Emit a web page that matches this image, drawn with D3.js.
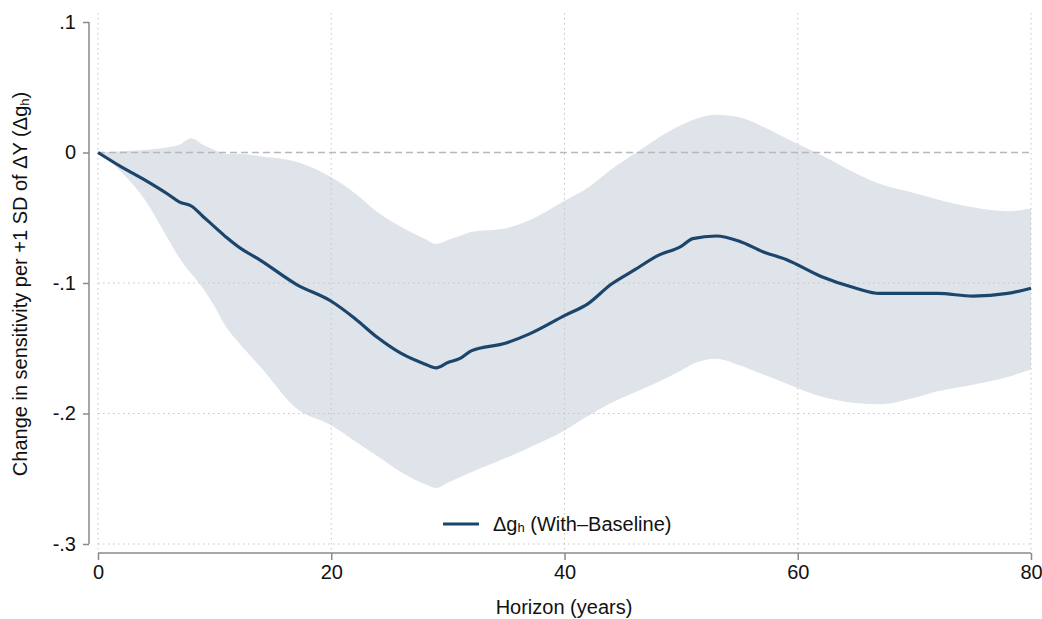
<!DOCTYPE html>
<html>
<head>
<meta charset="utf-8">
<script src="https://cdn.jsdelivr.net/npm/d3@7"></script>
<style>
  html, body { margin: 0; padding: 0; background: #fff; }
  svg { display: block; font-family: "Liberation Sans", Arial, Helvetica, sans-serif; }
</style>
</head>
<body>
<svg id="chart" width="1042" height="619"></svg>
<script>
const horizons = [0,2,4,6,7,8,9,10,11,12,14,17,20,22,24,26,28,29,30,31,32,35,37,40,42,44,46,48,50,51,53,55,57,59,62,65,67,70,72,75,78,80];
const estimate = [0,-0.011,-0.021,-0.032,-0.038,-0.041,-0.049,-0.057,-0.065,-0.072,-0.083,-0.101,-0.114,-0.127,-0.142,-0.154,-0.162,-0.165,-0.161,-0.158,-0.152,-0.146,-0.139,-0.125,-0.116,-0.101,-0.090,-0.079,-0.072,-0.066,-0.064,-0.068,-0.076,-0.082,-0.095,-0.104,-0.108,-0.108,-0.108,-0.110,-0.108,-0.104];
const upper = [0,0.001,0.002,0.004,0.006,0.011,0.006,0.002,-0.001,-0.001,-0.003,-0.007,-0.019,-0.031,-0.046,-0.057,-0.066,-0.070,-0.067,-0.064,-0.061,-0.058,-0.052,-0.037,-0.027,-0.013,-0.001,0.011,0.021,0.025,0.029,0.027,0.020,0.011,-0.002,-0.016,-0.024,-0.031,-0.036,-0.042,-0.045,-0.043];
const lower = [0,-0.015,-0.036,-0.066,-0.081,-0.093,-0.104,-0.118,-0.134,-0.145,-0.165,-0.196,-0.209,-0.221,-0.233,-0.245,-0.254,-0.257,-0.253,-0.249,-0.245,-0.234,-0.226,-0.213,-0.202,-0.192,-0.184,-0.176,-0.167,-0.162,-0.158,-0.163,-0.170,-0.177,-0.187,-0.192,-0.193,-0.188,-0.183,-0.178,-0.172,-0.166];
const xTicks = [0, 20, 40, 60, 80];
const xTickLabels = ["0", "20", "40", "60", "80"];
const yTicks = [0.1, 0, -0.1, -0.2, -0.3];
const yTickLabels = [".1", "0", "-.1", "-.2", "-.3"];

const svg = d3.select("#chart");
const x = d3.scaleLinear().domain([0, 80]).range([98, 1031]);
const y = d3.scaleLinear().domain([-0.3, 0.1]).range([544, 22]);

const rows = horizons.map((h, i) => ({h, e: estimate[i], lo: lower[i], hi: upper[i]}));

// band
svg.append("path")
  .datum(rows)
  .attr("fill", "#dfe3ea")
  .attr("d", d3.area().x(d => x(d.h)).y0(d => y(d.lo)).y1(d => y(d.hi)).curve(d3.curveMonotoneX));

// gridlines
const grid = svg.append("g");
xTicks.forEach(t => {
  grid.append("line").attr("x1", x(t)).attr("x2", x(t)).attr("y1", 13).attr("y2", 553)
    .attr("stroke", "#c4c4c4").attr("stroke-width", 1).attr("stroke-dasharray", "1.5,3.5");
});
yTicks.filter(t => t < 0).forEach(t => {
  grid.append("line").attr("x1", 98).attr("x2", 1031).attr("y1", y(t)).attr("y2", y(t))
    .attr("stroke", "#c4c4c4").attr("stroke-width", 1).attr("stroke-dasharray", "1.5,3.5");
});
// zero reference line
svg.append("line").attr("x1", 98).attr("x2", 1031).attr("y1", y(0)).attr("y2", y(0))
  .attr("stroke", "#b8b8b8").attr("stroke-width", 1.5).attr("stroke-dasharray", "7,4");

// estimate line
svg.append("path")
  .datum(rows)
  .attr("fill", "none")
  .attr("stroke", "#1c456c")
  .attr("stroke-width", 3.2)
  .attr("stroke-linejoin", "round")
  .attr("d", d3.line().x(d => x(d.h)).y(d => y(d.e)).curve(d3.curveMonotoneX));

// y axis
const yAxis = d3.axisLeft(y).tickValues(yTicks).tickSize(6).tickPadding(7)
  .tickFormat((d, i) => yTickLabels[i]);
const gy = svg.append("g").attr("transform", "translate(89,0)").call(yAxis);
gy.select(".domain").attr("stroke", "#8a8a8a").attr("stroke-width", 1.5).attr("d", "M0," + y(0.1) + "V" + y(-0.3));
gy.selectAll(".tick line").attr("stroke", "#8a8a8a").attr("stroke-width", 1.5);
gy.selectAll(".tick text").attr("font-size", 20).attr("fill", "#111").attr("font-family", "Liberation Sans, Arial, sans-serif");

// x axis
const xAxis = d3.axisBottom(x).tickValues(xTicks).tickSize(7).tickPadding(5)
  .tickFormat((d, i) => xTickLabels[i]);
const gx = svg.append("g").attr("transform", "translate(0,553)").call(xAxis);
gx.select(".domain").attr("stroke", "#8a8a8a").attr("stroke-width", 1.5).attr("d", "M" + x(0) + ",0H" + x(80));
gx.selectAll(".tick line").attr("stroke", "#8a8a8a").attr("stroke-width", 1.5);
gx.selectAll(".tick text").attr("font-size", 20).attr("fill", "#111").attr("font-family", "Liberation Sans, Arial, sans-serif");

// axis titles
svg.append("text").attr("x", 564).attr("y", 614).attr("text-anchor", "middle")
  .attr("font-size", 20).attr("fill", "#111").text("Horizon (years)");

const yl = svg.append("text").attr("transform", "translate(27,284) rotate(-90)")
  .attr("text-anchor", "middle").attr("font-size", 20).attr("fill", "#111");
yl.append("tspan").text("Change in sensitivity per +1 SD of ΔY (Δg");
yl.append("tspan").attr("font-size", 13).attr("dy", 2).text("h");
yl.append("tspan").attr("dy", -2).text(")");

// legend
const lg = svg.append("g");
lg.append("line").attr("x1", 443).attr("x2", 479).attr("y1", 524).attr("y2", 524)
  .attr("stroke", "#1c456c").attr("stroke-width", 3.2);
const lt = lg.append("text").attr("x", 493).attr("y", 531).attr("font-size", 20).attr("fill", "#111");
lt.append("tspan").text("Δg");
lt.append("tspan").attr("font-size", 13).attr("dy", 1).text("h");
lt.append("tspan").attr("dy", -1).text(" (With\u2013Baseline)");
</script>
</body>
</html>
